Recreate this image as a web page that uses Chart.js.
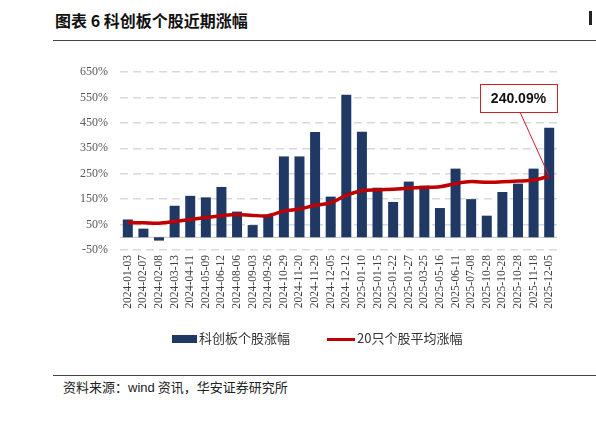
<!doctype html>
<html>
<head>
<meta charset="utf-8">
<script src="https://cdn.jsdelivr.net/npm/chart.js@4"></script>
<style>
  body { margin: 0; width: 596px; height: 437px; overflow: hidden; position: relative; background: #fff;
    font-family: "Noto Sans CJK SC", sans-serif; }
  .title { position: absolute; left: 55px; top: 8px; font-size: 16px; font-weight: bold; color: #111; }
  .rule { position: absolute; left: 53px; right: 0; height: 1px; background: #444; }
  #holder { position: absolute; left: 0; top: 50px; width: 596px; height: 280px; }
  .legend { position: absolute; top: 329px; font-size: 13px; color: #333; line-height: 18px; }
  .src { position: absolute; left: 63px; top: 377px; font-size: 13px; color: #222; }
</style>
</head>
<body>
<div class="title">图表 6 科创板个股近期涨幅</div>
<div style="position:absolute;left:589px;top:11px;width:3px;height:14px;background:#222"></div>
<div class="rule" style="top:40px"></div>

<div id="holder"><canvas id="chart"></canvas></div>

<div class="legend" style="left:172px"><span style="display:inline-block;width:25px;height:8px;background:#1F3864;vertical-align:middle;margin-right:2px"></span>科创板个股涨幅</div>
<div class="legend" style="left:327px"><span style="display:inline-block;width:28px;height:3px;background:#C00000;vertical-align:middle;margin-right:2px"></span>20只个股平均涨幅</div>

<div class="rule" style="top:375px"></div>
<div class="src">资料来源：<span style="font-family:'Liberation Sans',sans-serif">wind</span> 资讯，华安证券研究所</div>
<div class="title" style="top:433px;left:60px">图表 7 科创板个股涨幅分布情况</div>

<script>
// dates of each sample
var categories = ['2024-01-03','2024-02-07','2024-02-08','2024-03-13','2024-04-11','2024-05-09','2024-06-12',
  '2024-08-06','2024-09-03','2024-09-26','2024-10-29','2024-11-20','2024-11-29','2024-12-05','2024-12-12',
  '2025-01-10','2025-01-15','2025-01-22','2025-01-27','2025-03-25','2025-05-16','2025-06-11','2025-07-08',
  '2025-10-28','2025-10-28','2025-10-28','2025-11-18','2025-12-05'];
// 科创板个股涨幅 (%)
var stockGain = [70, 34, -13, 124, 163, 157, 198, 101, 48, 88, 318, 318, 414, 160, 561,
  415, 195, 139, 219, 203, 115, 270, 150, 85, 178, 211, 270, 431];
// 20只个股平均涨幅 (%)
var avgGain = [58, 57, 55, 62, 70, 78, 85, 90, 86, 85, 103, 111, 126, 135, 165,
  183, 186, 189, 193, 196, 199, 211, 219, 216, 218, 221, 225, 240.09];
var yTicks = [-50, 50, 150, 250, 350, 450, 550, 650];

var serif = '"Liberation Serif", "Times New Roman", "DejaVu Serif", serif';

var extras = {
  id: 'extras',
  beforeDatasetsDraw: function (chart) {
    var ctx = chart.ctx, y = chart.scales.y, a = chart.chartArea;
    var y0 = y.getPixelForValue(0);
    ctx.save();
    ctx.strokeStyle = '#BFBFBF';
    ctx.lineWidth = 1;
    ctx.beginPath();
    ctx.moveTo(a.left, y0);
    ctx.lineTo(a.right, y0);
    ctx.stroke();
    ctx.restore();
  },
  afterDatasetsDraw: function (chart) {
    var ctx = chart.ctx;
    var meta = chart.getDatasetMeta(1);
    var last = meta.data[meta.data.length - 1];
    // callout box (canvas coords, canvas starts 50px down the page)
    var bx = 480, by = 34, bw = 77, bh = 28;
    ctx.save();
    ctx.strokeStyle = '#D0202A';
    ctx.lineWidth = 1;
    ctx.beginPath();
    ctx.moveTo(520, by + bh);
    ctx.lineTo(last.x - 1, last.y - 2);
    ctx.stroke();
    ctx.fillStyle = '#fff';
    ctx.fillRect(bx, by, bw, bh);
    ctx.strokeRect(bx + 0.5, by + 0.5, bw, bh);
    ctx.fillStyle = '#111';
    ctx.font = "bold 14px 'Liberation Sans', sans-serif";
    ctx.textAlign = 'center';
    ctx.textBaseline = 'middle';
    ctx.fillText(avgGain[avgGain.length - 1].toFixed(2) + '%', bx + bw / 2, by + bh / 2 + 1);
    ctx.restore();
  }
};

new Chart(document.getElementById('chart'), {
  data: {
    labels: categories,
    datasets: [{
      type: 'bar',
      label: '科创板个股涨幅',
      data: stockGain,
      backgroundColor: '#1F3864',
      categoryPercentage: 1,
      barPercentage: 0.64,
      order: 2
    }, {
      type: 'line',
      label: '20只个股平均涨幅',
      data: avgGain,
      borderColor: '#C00000',
      borderWidth: 3.5,
      pointRadius: 0,
      tension: 0.3,
      order: 1
    }]
  },
  options: {
    responsive: true,
    maintainAspectRatio: false,
    animation: false,
    layout: { padding: { left: 53, right: 39, top: 22, bottom: 10 } },
    plugins: { legend: { display: false }, tooltip: { enabled: false } },
    scales: {
      x: {
        grid: { display: false, drawTicks: false },
        border: { display: false },
        afterFit: function (s) { s.height = 70; },
        ticks: {
          minRotation: 90, maxRotation: 90, autoSkip: false, padding: 5,
          color: '#404040', font: { family: serif, size: 11.5 }
        }
      },
      y: {
        min: -50, max: 650,
        afterFit: function (s) { s.width = 67; },
        afterBuildTicks: function (s) { s.ticks = yTicks.map(function (v) { return { value: v }; }); },
        border: { display: false, dash: [8, 5] },
        grid: { color: '#D9D9D9', lineWidth: 1.5, drawTicks: false },
        ticks: {
          padding: 12, color: '#595959', font: { family: serif, size: 12 },
          callback: function (v) { return v + '%'; }
        }
      }
    }
  },
  plugins: [extras]
});
</script>
</body>
</html>
